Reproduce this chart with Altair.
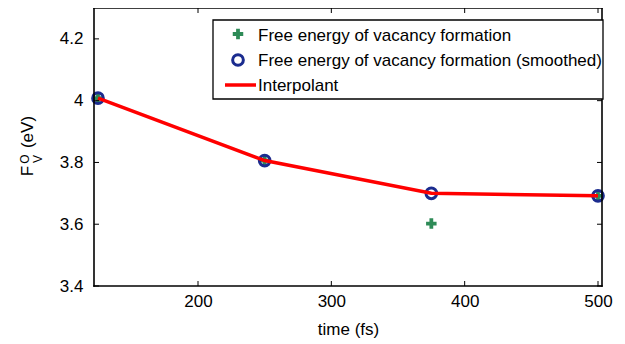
import altair as alt
import pandas as pd

# ---- data ----
time_fs = [125, 250, 375, 500]
free_energy = [4.008, 3.806, 3.602, 3.692]
free_energy_smoothed = [4.008, 3.806, 3.700, 3.692]
interpolant = [4.008, 3.806, 3.700, 3.692]
x_ticks = [200, 300, 400, 500]
y_ticks = [3.4, 3.6, 3.8, 4.0, 4.2]
legend_labels = [
    "Free energy of vacancy formation",
    "Free energy of vacancy formation (smoothed)",
    "Interpolant",
]

W, H = 508, 278
FONT = "Liberation Sans"
GREEN = "#2e8b57"
BLUE = "#1b2c8f"
RED = "#ff0000"
PLUS = "M-1,-0.36H-0.36V-1H0.36V-0.36H1V0.36H0.36V1H-0.36V0.36H-1Z"

df = pd.DataFrame({"time": time_fs, "raw": free_energy,
                   "smooth": free_energy_smoothed, "interp": interpolant})

xs = alt.Scale(domain=[122, 503], nice=False, zero=False)
ys = alt.Scale(domain=[3.4, 4.3], nice=False, zero=False)

x_axis = alt.Axis(values=x_ticks, title="time (fs)", ticks=False, domain=False,
                  grid=False, labelPadding=7, format="d",
                  titleBaseline="alphabetic", titleY=48)
y_axis = alt.Axis(values=y_ticks, title="", ticks=False, domain=False,
                  grid=False, labelPadding=11, format=".2~f")

base = alt.Chart(df)

raw_pts = base.mark_point(shape=PLUS, filled=True, size=110, color=GREEN, opacity=1).encode(
    x=alt.X("time:Q", scale=xs, axis=x_axis, title="time (fs)"),
    y=alt.Y("raw:Q", scale=ys, axis=y_axis, title=""),
)
smooth_pts = base.mark_point(shape="circle", filled=False, size=115, strokeWidth=3,
                             color=BLUE, opacity=1).encode(
    x=alt.X("time:Q", scale=xs, axis=x_axis, title="time (fs)"),
    y=alt.Y("smooth:Q", scale=ys, axis=y_axis, title=""),
)
line = base.mark_line(color=RED, strokeWidth=3.5).encode(
    x=alt.X("time:Q", scale=xs, axis=x_axis, title="time (fs)"),
    y=alt.Y("interp:Q", scale=ys, axis=y_axis, title=""),
)

one = pd.DataFrame({"k": [0]})

def edge(x1, x2, y1, y2):
    return alt.Chart(one).mark_rule(color="black", strokeWidth=1.6, strokeCap="square").encode(
        x=alt.value(x1), x2=alt.value(x2), y=alt.value(y1), y2=alt.value(y2))

frame = [edge(0, W, 0, 0), edge(0, W, H, H), edge(0, 0, 0, H), edge(W, W, 0, H)]

xt = alt.Chart(pd.DataFrame({"t": x_ticks}))
yt = alt.Chart(pd.DataFrame({"v": y_ticks}))
tick_layers = [
    xt.mark_rule(color="black", strokeWidth=1).encode(
        x=alt.X("t:Q", scale=xs, axis=x_axis, title="time (fs)"), y=alt.value(H), y2=alt.value(H - 5)),
    xt.mark_rule(color="black", strokeWidth=1).encode(
        x=alt.X("t:Q", scale=xs, axis=x_axis, title="time (fs)"), y=alt.value(0), y2=alt.value(5)),
    yt.mark_rule(color="black", strokeWidth=1).encode(
        y=alt.Y("v:Q", scale=ys, axis=y_axis, title=""), x=alt.value(0), x2=alt.value(5)),
    yt.mark_rule(color="black", strokeWidth=1).encode(
        y=alt.Y("v:Q", scale=ys, axis=y_axis, title=""), x=alt.value(W), x2=alt.value(W - 5)),
]

# legend
legend_box = alt.Chart(one).mark_rect(fill="white", stroke="black", strokeWidth=1.3).encode(
    x=alt.value(119), x2=alt.value(509), y=alt.value(12), y2=alt.value(91))
leg_plus = alt.Chart(one).mark_point(shape=PLUS, filled=True, size=110, color=GREEN, opacity=1).encode(
    x=alt.value(144), y=alt.value(26))
leg_circle = alt.Chart(one).mark_point(shape="circle", filled=False, size=115, strokeWidth=3,
                                       color=BLUE, opacity=1).encode(
    x=alt.value(144), y=alt.value(52))
leg_line = alt.Chart(one).mark_rule(color=RED, strokeWidth=3.5).encode(
    x=alt.value(131), x2=alt.value(162), y=alt.value(77))
leg_texts = []
for i, lab in enumerate(legend_labels):
    leg_texts.append(
        alt.Chart(pd.DataFrame({"lab": [lab]})).mark_text(
            font=FONT, fontSize=17, align="left", baseline="alphabetic", color="black"
        ).encode(x=alt.value(164), y=alt.value(33 + 25 * i), text="lab:N")
    )

# y-axis title with sub/superscript, built from pieces
def ytxt(s, x, y, size):
    return alt.Chart(pd.DataFrame({"s": [s]})).mark_text(
        font=FONT, fontSize=size, angle=270, align="center", baseline="middle", color="black"
    ).encode(x=alt.value(x), y=alt.value(y), text="s:N")

ytitle = [
    ytxt("(eV)", -66, 124, 17),
    ytxt("F", -66, 163, 17),
    ytxt("O", -69, 151, 12),
    ytxt("V", -56.5, 151, 12),
]

chart = alt.layer(
    raw_pts, smooth_pts, line, *tick_layers, *frame,
    legend_box, leg_plus, leg_circle, leg_line, *leg_texts, *ytitle
).properties(
    width=W, height=H,
    background="white",
    autosize=alt.AutoSizeParams(type="none"),
    padding={"left": 86, "top": 0, "right": 15, "bottom": 58},
).configure_view(strokeWidth=0).configure_axis(
    labelFont=FONT, titleFont=FONT, labelFontSize=17, titleFontSize=17,
    labelColor="black", titleColor="black", titleFontWeight="normal",
)

chart.save("out.html", embed_options={"renderer": "svg", "actions": False})
